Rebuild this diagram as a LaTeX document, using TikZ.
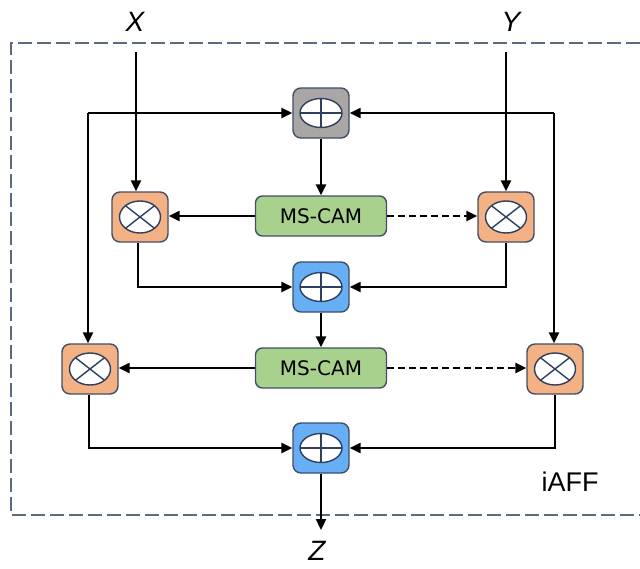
\documentclass[tikz,border=0pt]{standalone}
\usepackage{fontspec}
\usetikzlibrary{arrows.meta}
\newfontfamily\dvfont{DejaVu Sans}
\newfontfamily\lsfont{Liberation Sans}
\definecolor{edgecol}{HTML}{3F4F66}
\definecolor{ellcol}{HTML}{2F3F5F}
\definecolor{dashcol}{HTML}{5A6B80}
\definecolor{grayfill}{HTML}{ABA6A6}
\definecolor{orangefill}{HTML}{F4B183}
\definecolor{bluefill}{HTML}{66AFF5}
\definecolor{greenfill}{HTML}{A9D18E}
\tikzset{
  opbox/.style={draw=edgecol, line width=1.4pt, rounded corners=8pt, minimum width=56pt, minimum height=50pt, inner sep=0pt},
  plusop/.style={opbox, path picture={
      \path (path picture bounding box.center) coordinate (pc);
      \draw[ellcol, fill=white, line width=1.4pt] (pc) ellipse [x radius=21pt, y radius=14.5pt];
      \draw[ellcol, line width=1.4pt] ([xshift=-21pt]pc) -- ([xshift=21pt]pc);
      \draw[ellcol, line width=1.4pt] ([yshift=-14.5pt]pc) -- ([yshift=14.5pt]pc);
  }},
  timesop/.style={opbox, path picture={
      \path (path picture bounding box.center) coordinate (pc);
      \draw[ellcol, fill=white, line width=1.4pt] (pc) ellipse [x radius=20.5pt, y radius=16pt];
      \draw[ellcol, line width=1.4pt] ([shift={(-14.5pt,-11.3pt)}]pc) -- ([shift={(14.5pt,11.3pt)}]pc);
      \draw[ellcol, line width=1.4pt] ([shift={(-14.5pt,11.3pt)}]pc) -- ([shift={(14.5pt,-11.3pt)}]pc);
  }},
  cambox/.style={draw=edgecol, line width=1.4pt, rounded corners=7pt, fill=greenfill, minimum width=131pt, minimum height=40pt, inner sep=0pt, font=\dvfont\fontsize{20}{22}\selectfont},
  arr/.style={-{Triangle[length=11pt,width=10pt]}, line width=2.3pt, black},
  dasharr/.style={arr, dash pattern=on 7pt off 4pt},
  framedash/.style={dashcol, line width=1.8pt, dash pattern=on 14pt off 5pt},
  lab/.style={font=\lsfont\itshape\fontsize{28}{30}\selectfont, inner sep=0pt},
}
\begin{document}
\begin{tikzpicture}[x=1pt,y=-1pt]
\useasboundingbox (0,0) rectangle (640,568);
% frame
\draw[framedash] (640,43) -- (11,43) -- (11,515) -- (640,515);
% nodes
\node[plusop, fill=grayfill] (gp) at (321,113) {};
\node[cambox] (cam1) at (321,216) {MS-CAM};
\node[timesop, fill=orangefill] (m1) at (140,217) {};
\node[timesop, fill=orangefill] (m2) at (506,217) {};
\node[plusop, fill=bluefill] (bp1) at (321,287) {};
\node[cambox] (cam2) at (321,368) {MS-CAM};
\node[timesop, fill=orangefill] (m3) at (90,369) {};
\node[timesop, fill=orangefill] (m4) at (555,369) {};
\node[plusop, fill=bluefill] (bp2) at (321,448) {};
% labels
\node[lab] (xl) at (135,22) {X};
\node[lab] (yl) at (511,22) {Y};
\node[lab] (zl) at (317,551) {Z};
\node[font=\lsfont\fontsize{27}{30}\selectfont, inner sep=0pt] (iaff) at (570,482) {iAFF};
% coordinates
\coordinate (xtop) at (136,52);
\coordinate (ytop) at (506,52);
\coordinate (lc) at (88,113);
\coordinate (rc) at (554,113);
\coordinate (ztip) at (321,530);
% connectors
\draw[arr] (xtop) -- (xtop |- m1.north);
\draw[arr] (ytop) -- (ytop |- m2.north);
\draw[arr] (lc) -- (gp.west);
\draw[arr] (lc) -- (lc |- m3.north);
\draw[arr] (rc) -- (gp.east);
\draw[arr] (rc) -- (rc |- m4.north);
\draw[arr] (gp.south) -- (cam1.north);
\draw[arr] (cam1.west) -- (m1.east |- cam1.west);
\draw[dasharr] (cam1.east) -- (m2.west |- cam1.east);
\draw[arr] ([xshift=-2pt]m1.south) |- (bp1.west);
\draw[arr] (m2.south) |- (bp1.east);
\draw[arr] (bp1.south) -- (cam2.north);
\draw[arr] (cam2.west) -- (m3.east |- cam2.west);
\draw[dasharr] (cam2.east) -- (m4.west |- cam2.east);
\draw[arr] ([xshift=-1pt]m3.south) |- (bp2.west);
\draw[arr] (m4.south) |- (bp2.east);
\draw[arr] (bp2.south) -- (ztip);
\end{tikzpicture}
\end{document}
